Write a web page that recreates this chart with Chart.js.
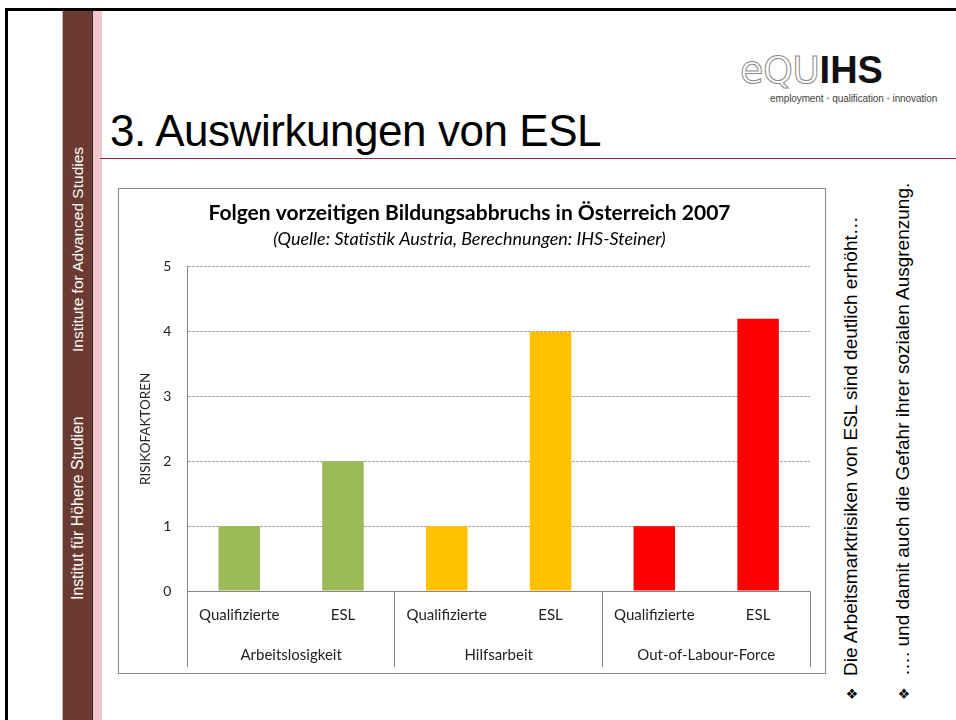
<!DOCTYPE html>
<html>
<head>
<meta charset="utf-8">
<script src="https://cdn.jsdelivr.net/npm/chart.js@4.4.1/dist/chart.umd.min.js"></script>
<style>
  html, body { margin:0; padding:0; background:#fff; }
  body { width:956px; height:720px; position:relative; overflow:hidden; font-family:"Liberation Sans", Arial, sans-serif; }
  .abs { position:absolute; }
  .rot { position:absolute; transform-origin:left top; transform:rotate(-90deg); white-space:nowrap; }
</style>
</head>
<body>
<!-- slide frame -->
<div class="abs" style="left:5px;top:8px;width:951px;height:3px;background:#000;"></div>
<div class="abs" style="left:5px;top:8px;width:3px;height:712px;background:#000;"></div>
<div class="abs" style="left:62px;top:11px;width:1px;height:709px;background:#bdbdbd;"></div>
<div class="abs" style="left:63px;top:11px;width:29px;height:709px;background:#6b3b32;"></div>
<div class="abs" style="left:92px;top:11px;width:1px;height:709px;background:#3a2620;"></div>
<div class="abs" style="left:93px;top:11px;width:9px;height:709px;background:#f2c4cb;"></div>
<div class="rot" style="left:69px;top:352px;font-size:15.5px;line-height:18px;color:#fff;">Institute for Advanced Studies</div>
<div class="rot" style="left:69px;top:600px;font-size:15.8px;line-height:18px;color:#fff;">Institut für Höhere Studien</div>

<!-- logo -->
<div class="abs" style="left:740px;top:49px;font-family:'DejaVu Sans', sans-serif;font-size:38px;line-height:42px;letter-spacing:-0.5px;white-space:nowrap;">
  <span style="color:#fff;-webkit-text-stroke:1px #8a8a8a;">eQU</span><span style="color:#111;font-family:'Liberation Sans',Arial,sans-serif;font-weight:bold;letter-spacing:0;">IHS</span>
</div>
<div class="abs" style="left:770px;top:93px;font-family:'Liberation Sans',Arial,sans-serif;font-size:10px;color:#444;white-space:nowrap;letter-spacing:-0.1px;">employment <span style="color:#bbb">•</span> qualification <span style="color:#bbb">•</span> innovation</div>

<!-- title -->
<div class="abs" style="left:110px;top:105px;font-size:44px;line-height:52px;color:#000;white-space:nowrap;letter-spacing:-0.45px;">3. Auswirkungen von ESL</div>
<div class="abs" style="left:100px;top:158px;width:856px;height:1px;background:#a0224e;"></div>

<!-- chart -->
<div class="abs" style="left:118px;top:188px;width:708px;height:486px;border:1px solid #8a8a8a;box-sizing:border-box;">
  <canvas id="c" width="706" height="484"></canvas>
</div>

<!-- right rotated bullets -->
<div class="rot" style="left:840px;top:700px;font-size:19px;line-height:21px;color:#000;"><span style="font-family:'DejaVu Sans';font-size:14px;display:inline-block;width:24px;">❖</span>Die Arbeitsmarktrisiken von ESL sind deutlich erhöht…</div>
<div class="rot" style="left:892px;top:700px;font-size:19px;line-height:21px;color:#000;"><span style="font-family:'DejaVu Sans';font-size:14px;display:inline-block;width:24px;">❖</span>…. und damit auch die Gefahr ihrer sozialen Ausgrenzung.</div>

<script>
// ---- data ----
const groups = ['Arbeitslosigkeit', 'Hilfsarbeit', 'Out-of-Labour-Force'];
const subCategories = ['Qualifizierte', 'ESL'];
const qualifizierte = [1, 1, 1];
const esl = [2, 4, 4.2];
const yTickValues = [0, 1, 2, 3, 4, 5];
const chartTitle = 'Folgen vorzeitigen Bildungsabbruchs in Österreich 2007';
const chartSubtitle = '(Quelle: Statistik Austria, Berechnungen: IHS-Steiner)';
const yAxisTitle = 'RISIKOFAKTOREN';

// ---- styles ----
const groupColors = ['#9bbb59', '#ffc000', '#ff0000'];
const font = 'Lato, "Open Sans", sans-serif';

const labels = [];
const values = [];
const colors = [];
groups.forEach((g, i) => {
  labels.push(subCategories[0]); values.push(qualifizierte[i]); colors.push(groupColors[i]);
  labels.push(subCategories[1]); values.push(esl[i]); colors.push(groupColors[i]);
});

new Chart(document.getElementById('c'), {
  type: 'bar',
  data: {
    labels: labels,
    datasets: [{
      data: values,
      backgroundColor: colors,
      borderWidth: 0,
      categoryPercentage: 0.8,
      barPercentage: 0.5
    }]
  },
  options: {
    responsive: false,
    animation: false,
    devicePixelRatio: 1,
    layout: { padding: { left: 10, right: 15, top: 0, bottom: 6 } },
    plugins: {
      legend: { display: false },
      tooltip: { enabled: false },
      title: {
        display: true, text: chartTitle, color: '#000',
        font: { family: font, size: 21, weight: 'bold' },
        padding: { top: 12, bottom: 1 }
      },
      subtitle: {
        display: true, text: chartSubtitle, color: '#000',
        font: { family: font, size: 18, style: 'italic' },
        padding: { top: 1, bottom: 17 }
      }
    },
    scales: {
      y: {
        min: 0, max: 5,
        afterBuildTicks: s => { s.ticks = yTickValues.map(v => ({ value: v })); },
        ticks: { color: '#222', font: { family: font, size: 14 }, padding: 8 },
        grid: { color: '#a6a6a6', lineWidth: 1, drawTicks: true, tickLength: 8, tickColor: 'transparent' },
        border: { display: true, color: '#868686', width: 1, dash: [3, 1] },
        title: {
          display: true, text: yAxisTitle, color: '#222',
          font: { family: font, size: 13.5 },
          padding: { top: 9, bottom: 1 }
        }
      },
      x: {
        type: 'category',
        position: 'bottom',
        weight: 0,
        offset: true,
        grid: {
          display: true, drawOnChartArea: false, drawTicks: true, tickLength: 44, offset: true,
          color: ctx => (ctx.index === undefined || ctx.index % 2 === 0) ? '#868686' : 'rgba(0,0,0,0)'
        },
        border: { display: true, color: '#868686', width: 1 },
        ticks: { color: '#222', font: { family: font, size: 15 }, padding: -29, maxRotation: 0, autoSkip: false },
        afterFit: s => { s.height = 44; }
      },
      x2: {
        type: 'category',
        position: 'bottom',
        weight: 1,
        labels: groups,
        offset: true,
        grid: { display: true, drawOnChartArea: false, drawTicks: true, tickLength: 32, offset: true, color: '#868686' },
        border: { display: false },
        ticks: { color: '#222', font: { family: font, size: 15 }, padding: -21, maxRotation: 0, autoSkip: false },
        afterFit: s => { s.height = 32; }
      }
    }
  }
});
</script>
</body>
</html>
